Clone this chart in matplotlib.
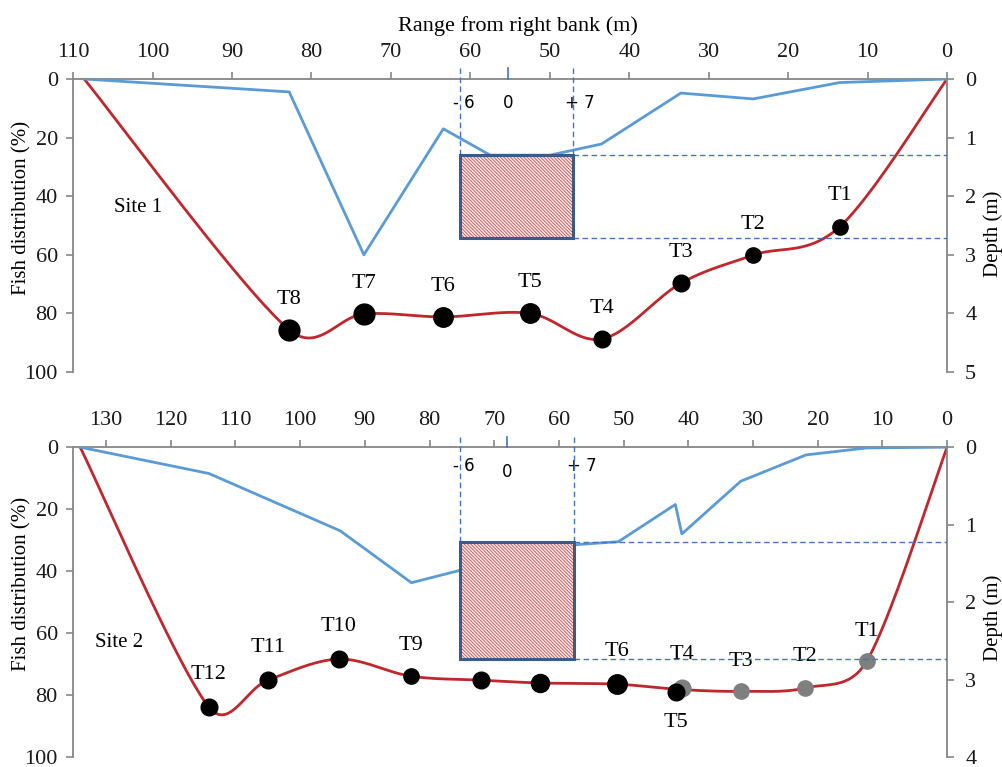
import numpy as np
import matplotlib as mpl
import matplotlib.pyplot as plt
from matplotlib.patches import Rectangle

mpl.rcParams['font.family'] = ['Liberation Serif', 'DejaVu Serif']
mpl.rcParams['hatch.linewidth'] = 0.6

# ---------------- Site 1 ----------------
s1_bed_range = [108.6, 82.8, 73.4, 63.4, 57.5, 50.0, 43.5, 33.5, 24.4, 13.5, 0.0]
s1_bed_depth = [0.0, 0.22, 3.0, 0.85, 1.3, 1.3, 1.11, 0.24, 0.34, 0.06, 0.0]
s1_fish_range = [108.6, 82.8, 73.4, 63.4, 52.5, 43.4, 33.5, 24.4, 13.5, 0.0]
s1_fish_pct = [0.0, 85.6, 80.2, 81.2, 80.0, 88.7, 69.7, 60.1, 50.4, 0.0]
s1_tags = ['T8', 'T7', 'T6', 'T5', 'T4', 'T3', 'T2', 'T1']
s1_tag_range = [82.8, 73.4, 63.4, 52.5, 43.4, 33.5, 24.4, 13.5]
s1_tag_pct = [85.6, 80.2, 81.2, 80.0, 88.7, 69.7, 60.1, 50.4]
s1_tag_size = [15, 15, 14, 14, 12, 12, 11, 11]
s1_box = (61.3, 47.1, 1.3, 2.71)   # range left, range right, depth top, depth bottom
s1_mid = 55.25

# ---------------- Site 2 ----------------
s2_bed_range = [134.0, 114.1, 93.8, 82.8, 75.3, 66.0, 57.6, 50.8, 42.0, 41.0, 31.9, 21.8, 12.4, 0.0]
s2_bed_depth = [0.0, 0.34, 1.08, 1.75, 1.59, 1.3, 1.26, 1.22, 0.74, 1.12, 0.44, 0.1, 0.01, 0.0]
s2_fish_range = [134.0, 114.1, 105.0, 94.0, 82.9, 72.0, 62.9, 51.0, 41.3, 31.9, 21.9, 12.4, 0.0]
s2_fish_pct = [0.0, 83.9, 75.2, 68.4, 73.9, 75.2, 76.1, 76.5, 78.2, 78.8, 77.7, 69.0, 0.0]
s2_black_range = [114.1, 105.0, 94.0, 82.9, 72.0, 62.9, 51.0, 41.9]
s2_black_pct = [83.9, 75.2, 68.4, 73.9, 75.2, 76.1, 76.5, 79.0]
s2_black_size = [12, 12, 12, 11, 12, 13, 14, 12]
s2_gray_range = [41.0, 31.9, 21.9, 12.4]
s2_gray_pct = [77.7, 78.8, 77.7, 69.0]
s2_gray_size = [12, 11, 11, 11]
s2_tags = ['T12', 'T11', 'T10', 'T9', 'T6', 'T4', 'T3', 'T2', 'T1', 'T5']
s2_tag_range = [114.1, 105.0, 94.0, 82.9, 51.0, 41.0, 31.9, 21.9, 12.4, 41.9]
s2_tag_pct = [73.5, 64.8, 58.0, 63.9, 66.0, 67.0, 69.3, 67.4, 59.4, 89.0]
s2_box = (75.3, 57.6, 1.23, 2.74)
s2_mid = 68.0

RED = '#C0272D'
BLUE = '#5B9BD5'
DASH = '#4472C4'
GREY = '#868686'


def excel_smooth(ax, xs, ys, n=40):
    # Excel "smoothed line": Bezier segments, control points computed in pixels
    pts = ax.transData.transform(np.column_stack([xs, ys]))
    P = np.vstack([pts[0], pts, pts[-1]])
    t = np.linspace(0, 1, n)[:, None]
    out = []
    for i in range(1, len(P) - 2):
        p0, p1, p2, p3 = P[i - 1], P[i], P[i + 1], P[i + 2]
        d12 = np.hypot(*(p2 - p1))
        d02 = np.hypot(*(p2 - p0))
        d13 = np.hypot(*(p3 - p1))
        f1 = 1 / 6 if d02 / 6 < d12 / 2 else d12 / (2 * d02)
        f2 = 1 / 6 if d13 / 6 < d12 / 2 else d12 / (2 * d13)
        c1 = p1 + (p2 - p0) * f1
        c2 = p2 - (p3 - p1) * f2
        seg = (1 - t)**3 * p1 + 3 * (1 - t)**2 * t * c1 + 3 * (1 - t) * t**2 * c2 + t**3 * p2
        out.append(seg)
    out = ax.transData.inverted().transform(np.vstack(out))
    return out[:, 0], out[:, 1]


def style_axes(ax, ax2, xmax, xticks, dmax):
    ax.set_xlim(xmax, 0)
    ax.set_ylim(100, 0)
    ax2.set_ylim(dmax, 0)
    ax.xaxis.tick_top()
    ax.set_xticks(xticks)
    ax.set_yticks(range(0, 101, 20))
    ax2.set_yticks(range(0, dmax + 1))
    for a in (ax, ax2):
        for s in a.spines.values():
            s.set_color(GREY)
            s.set_linewidth(1.3)
        a.spines['bottom'].set_visible(False)
        a.tick_params(colors=GREY, labelcolor='#1a1a1a', labelsize=16, length=5, width=1.2)
    ax.spines['right'].set_visible(False)
    ax2.spines['left'].set_visible(False)
    ax2.spines['top'].set_visible(False)
    ax.tick_params(axis='x', pad=7)
    ax.tick_params(axis='y', pad=6)
    ax2.tick_params(axis='y', pad=8)
    ax.set_ylabel('Fish distribution (%)', fontsize=15)
    ax2.set_ylabel('Depth (m)', fontsize=15, rotation=90)


def draw_panel(ax, ax2, bed_r, bed_d, fr, fp, box, mid, dtop):
    ax2.plot(bed_r, bed_d, color=BLUE, lw=2.0, zorder=2)
    sx, sy = excel_smooth(ax, fr, fp)
    ax.plot(sx, sy, color=RED, lw=2.0, zorder=2)
    x0, x1, d0, d1 = box
    ax2.add_patch(Rectangle((x1, d0), x0 - x1, d1 - d0, facecolor='#FBEDED',
                            edgecolor='#C8494B', hatch='\\' * 10, lw=0, zorder=3))
    ax2.add_patch(Rectangle((x1, d0), x0 - x1, d1 - d0, fill=False,
                            edgecolor='#3B5A86', lw=2.2, zorder=4))
    xr = ax.get_xlim()[1]
    for d in (d0, d1):
        ax2.plot([x1, xr], [d, d], color=DASH, lw=1.0, ls=(0, (4, 2.5)), zorder=3)
    for xv in (x0, x1):
        ax2.plot([xv, xv], [dtop, d0], color=DASH, lw=1.0, ls=(0, (4, 2.5)),
                 clip_on=False, zorder=3)
    ax2.plot([mid, mid], [dtop, 0], color=DASH, lw=1.2, clip_on=False, zorder=3)


fig = plt.figure(figsize=(10.02, 7.67), dpi=100)
lab = dict(fontsize=12, family='DejaVu Sans', va='center')

# ---- top panel
ax = fig.add_axes([0.0729, 0.515, 0.8723, 0.382])
ax2 = ax.twinx()
style_axes(ax, ax2, 110, range(0, 111, 10), 5)
draw_panel(ax, ax2, s1_bed_range, s1_bed_depth, s1_fish_range, s1_fish_pct, s1_box, s1_mid, -0.19)
for r, p, s in zip(s1_tag_range, s1_tag_pct, s1_tag_size):
    ax.plot(r, p, 'o', color='black', ms=s, zorder=5)
for t, r, p in zip(s1_tags, s1_tag_range, s1_tag_pct):
    ax.text(r, p - 10.5, t, ha='center', va='center', fontsize=16)
ax.text(101.8, 44, 'Site 1', ha='center', va='center', fontsize=15)
ax.set_xlabel('Range from right bank (m)', fontsize=16)
ax.xaxis.set_label_position('top')
ax.xaxis.set_label_coords(0.509, 1.164)
ax.yaxis.set_label_coords(-0.047, 0.56)
ax2.yaxis.set_label_coords(1.041, 0.47)
ax.annotate('- 6', (s1_box[0], 0.918), xycoords=('data', 'axes fraction'),
            xytext=(3, 0), textcoords='offset points', ha='center', **lab)
ax.annotate('0', (s1_mid, 0.918), xycoords=('data', 'axes fraction'), ha='center', **lab)
ax.annotate('+ 7', (s1_box[1], 0.918), xycoords=('data', 'axes fraction'),
            xytext=(5, 0), textcoords='offset points', ha='center', **lab)

# ---- bottom panel
bx = fig.add_axes([0.0729, 0.013, 0.8723, 0.404])
bx2 = bx.twinx()
style_axes(bx, bx2, 135.1, range(0, 131, 10), 4)
draw_panel(bx, bx2, s2_bed_range, s2_bed_depth, s2_fish_range, s2_fish_pct, s2_box, s2_mid, -0.13)
for r, p, s in zip(s2_gray_range, s2_gray_pct, s2_gray_size):
    bx.plot(r, p, 'o', color='#7F7F7F', ms=s, zorder=5)
for r, p, s in zip(s2_black_range, s2_black_pct, s2_black_size):
    bx.plot(r, p, 'o', color='black', ms=s, zorder=6)
for t, r, p in zip(s2_tags, s2_tag_range, s2_tag_pct):
    bx.text(r, p, t, ha='center', va='center', fontsize=16)
bx.text(128, 63, 'Site 2', ha='center', va='center', fontsize=15)
bx.yaxis.set_label_coords(-0.047, 0.56)
bx2.yaxis.set_label_coords(1.041, 0.45)
bx.annotate('- 6', (s2_box[0], 0.939), xycoords=('data', 'axes fraction'),
            xytext=(3, 0), textcoords='offset points', ha='center', **lab)
bx.annotate('0', (s2_mid, 0.92), xycoords=('data', 'axes fraction'), ha='center', **lab)
bx.annotate('+ 7', (s2_box[1], 0.939), xycoords=('data', 'axes fraction'),
            xytext=(5, 0), textcoords='offset points', ha='center', **lab)

fig.savefig('out.png', dpi=100)
